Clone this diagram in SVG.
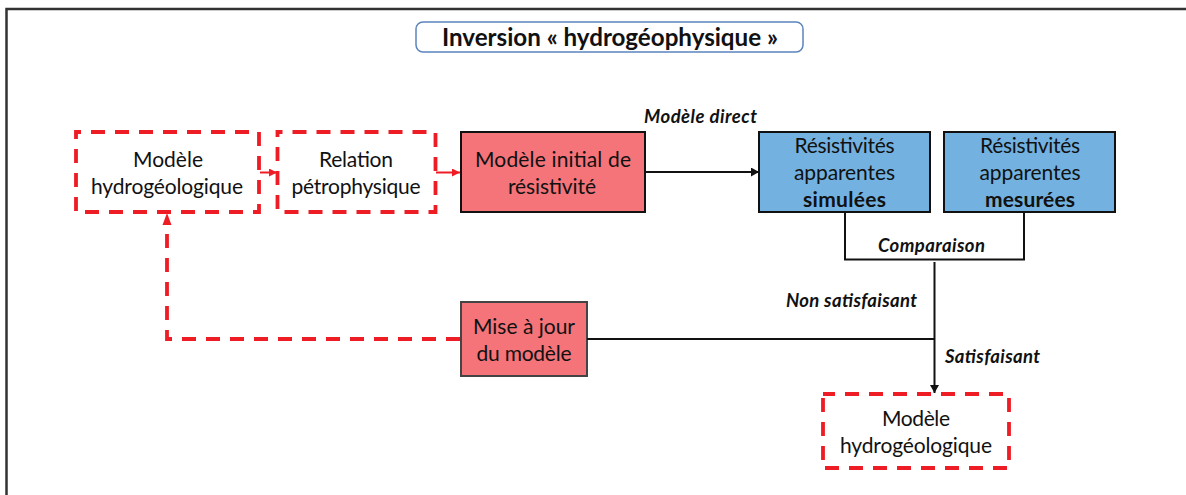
<svg xmlns="http://www.w3.org/2000/svg" width="1186" height="495" viewBox="0 0 1186 495">
<style>
text{font-family:Lato,"Open Sans","Liberation Sans",sans-serif;fill:#111;text-anchor:middle}
.n{font-size:21px}
.b{font-weight:700}
.l{font-size:18.500px;font-weight:700;font-style:italic}
.t{font-size:24.200px;font-weight:700}
.dash{fill:#fff;stroke:#ee1c25;stroke-width:3.800;stroke-dasharray:14 10;stroke-dashoffset:9}
.red{fill:#f47479;stroke:#111;stroke-width:2}
.blue{fill:#73b2e0;stroke:#111;stroke-width:2}
.k{fill:none;stroke:#111;stroke-width:2}
.r{fill:none;stroke:#ee1c25;stroke-width:2}
.rd{fill:none;stroke:#ee1c25;stroke-width:3.800;stroke-dasharray:14 10}
</style>
<defs>
<marker id="ak" markerUnits="userSpaceOnUse" markerWidth="10" markerHeight="10" refX="8" refY="4.500" orient="auto"><path d="M0 0L8 4.500L0 9z" fill="#111"/></marker>
<marker id="ar" markerUnits="userSpaceOnUse" markerWidth="10" markerHeight="10" refX="8" refY="4" orient="auto"><path d="M0 0L8 4L0 8z" fill="#ee1c25"/></marker>
</defs>
<path d="M6.500 495V9H1186" fill="none" stroke="#333" stroke-width="2.500"/>
<g id="modele-hydro-1"><rect class="dash" x="76" y="132" width="183" height="80"/><text class="n" x="168" y="166.500" textLength="70">Modèle</text><text class="n" x="167" y="193.500" textLength="152">hydrogéologique</text></g>
<g id="relation"><rect class="dash" x="277.500" y="132" width="158" height="80"/><text class="n" x="356" y="166.500" textLength="74">Relation</text><text class="n" x="356" y="193.500" textLength="129">pétrophysique</text></g>
<g id="modele-initial"><rect class="red" x="461" y="132" width="184" height="80"/><text class="n" x="553" y="166.500" textLength="156">Modèle initial de</text><text class="n" x="552" y="193.500" textLength="88">résistivité</text></g>
<g id="simulees"><rect class="blue" x="759" y="132" width="171" height="80"/><text class="n" x="844.500" y="152.500" textLength="100">Résistivités</text><text class="n" x="844.500" y="179.500" textLength="101">apparentes</text><text class="n b" x="844.500" y="206.500" textLength="83">simulées</text></g>
<g id="mesurees"><rect class="blue" x="944" y="132" width="171" height="80"/><text class="n" x="1030" y="152.500" textLength="100">Résistivités</text><text class="n" x="1030" y="179.500" textLength="101">apparentes</text><text class="n b" x="1030" y="206.500" textLength="90">mesurées</text></g>
<g id="mise-a-jour"><rect class="red" x="461" y="302" width="126" height="74" style="stroke:#444"/><text class="n" x="524" y="333.500" textLength="102">Mise à jour</text><text class="n" x="524" y="360.500" textLength="95">du modèle</text></g>
<g id="modele-hydro-2"><rect class="dash" x="823" y="394" width="186" height="74" style="stroke-dashoffset:2"/><text class="n" x="916" y="425.500" textLength="68">Modèle</text><text class="n" x="916" y="452.500" textLength="152">hydrogéologique</text></g>
<g id="title"><rect x="416" y="22" width="387" height="30" rx="7" fill="#fff" stroke="#5b84bd" stroke-width="1.500"/><text class="t" x="610" y="45.500" textLength="336">Inversion « hydrogéophysique »</text></g>
<g id="connectors">
<path class="k" d="M646 172H759" marker-end="url(#ak)"/>
<path class="k" d="M845 212V259.500H1024V212"/>
<path class="k" d="M934.500 262V393" marker-end="url(#ak)"/>
<path class="k" d="M587 339H934.500"/>
<path class="r" d="M260 172.500H277" marker-end="url(#ar)"/>
<path class="r" d="M436 172.500H460" marker-end="url(#ar)"/>
<path class="rd" d="M460 339H167V226"/>
<path d="M167 213L171.500 225H162.500z" fill="#ee1c25"/>
</g>
<g id="labels">
<text class="l" x="700.500" y="122.500" textLength="113">Modèle direct</text>
<text class="l" x="931.500" y="251.500" textLength="107">Comparaison</text>
<text class="l" x="851.500" y="306.500" textLength="131">Non satisfaisant</text>
<text class="l" x="992.500" y="362.500" textLength="95">Satisfaisant</text>
</g>
</svg>
